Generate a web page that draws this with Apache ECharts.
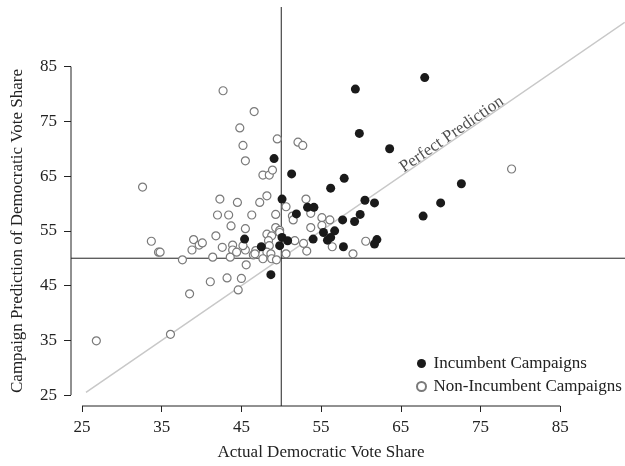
<!DOCTYPE html>
<html>
<head>
<meta charset="utf-8">
<script src="https://cdn.jsdelivr.net/npm/echarts@6/dist/echarts.min.js"></script>
<style>
  html, body { margin: 0; padding: 0; background: #fff; }
  #chart { width: 625px; height: 466px; }
</style>
</head>
<body>
<div id="chart"></div>
<script>
// tick labels on both axes
const xTicks = [25, 35, 45, 55, 65, 75, 85];
const yTicks = [25, 35, 45, 55, 65, 75, 85];

// [actual vote share, campaign prediction]
const incumbent = [
  [68.0, 83.0], [59.3, 80.9], [59.8, 72.8], [63.6, 70.0], [57.9, 64.6],
  [56.2, 62.8], [72.6, 63.6], [70.0, 60.1], [67.8, 57.7], [60.5, 60.6],
  [61.7, 60.1], [59.9, 58.0], [59.2, 56.7], [57.7, 57.0], [53.3, 59.3],
  [54.1, 59.3], [50.1, 60.8], [51.9, 58.1], [49.1, 68.2], [51.3, 65.4],
  [45.4, 53.5], [47.5, 52.1], [50.1, 53.8], [50.8, 53.2], [49.8, 52.3],
  [48.7, 47.0], [54.0, 53.5], [55.3, 54.7], [56.7, 55.0], [56.2, 53.8],
  [57.8, 52.1], [62.0, 53.4], [61.7, 52.6], [55.8, 53.3]
];

const nonIncumbent = [
  [26.8, 34.9], [36.1, 36.1], [38.5, 43.5], [41.1, 45.7], [43.2, 46.4],
  [45.0, 46.3], [44.6, 44.2], [32.6, 63.0], [33.7, 53.1], [34.6, 51.1],
  [34.8, 51.1], [37.6, 49.7], [39.0, 53.4], [38.8, 51.5], [39.7, 52.4],
  [40.1, 52.8], [41.4, 50.2], [41.8, 54.1], [42.6, 52.0], [43.7, 55.9],
  [45.5, 55.4], [43.9, 52.4], [43.9, 51.5], [43.6, 50.2], [44.4, 51.1],
  [45.5, 51.5], [45.6, 48.8], [46.5, 50.6], [46.8, 51.4], [42.0, 57.9],
  [43.4, 57.9], [46.3, 57.9], [49.3, 58.0], [42.3, 60.8], [44.5, 60.2],
  [47.3, 60.2], [48.2, 61.4], [47.7, 65.2], [48.5, 65.2], [48.9, 66.1],
  [45.5, 67.8], [45.2, 70.6], [44.8, 73.8], [46.6, 76.8], [42.7, 80.6],
  [49.5, 71.8], [52.1, 71.2], [52.7, 70.6], [50.6, 59.4], [53.1, 60.8],
  [51.4, 57.7], [51.5, 57.0], [53.7, 58.2], [53.7, 55.6], [49.3, 55.6],
  [49.8, 55.1], [48.2, 54.4], [48.8, 54.1], [49.8, 54.7], [48.4, 53.2],
  [48.5, 52.3], [48.2, 51.1], [48.7, 50.8], [47.7, 49.9], [48.8, 49.9],
  [49.4, 49.7], [50.6, 50.8], [51.7, 53.2], [52.8, 52.7], [53.2, 51.3],
  [55.1, 57.4], [56.1, 57.0], [55.1, 56.0], [56.4, 52.1], [60.6, 53.1],
  [59.0, 50.8], [78.9, 66.3], [46.7, 50.8], [45.2, 52.3]
];

// y = x reference line and where its label sits
const perfectLine = [[25.5, 25.5], [93.1, 93.1]];
const perfectLabel = [72.0, 72.0];

const splitX = 50;
const splitY = 50;

const xRange = [23.62, 93.13];
const yRange = [23.0, 95.9];

const FONT = '"Liberation Serif", "DejaVu Serif", serif';
const INK = '#222';

const chart = echarts.init(document.getElementById('chart'), null, { renderer: 'canvas' });

const xFirst = xTicks[0], xLast = xTicks[xTicks.length - 1];
const yFirst = yTicks[0], yLast = yTicks[yTicks.length - 1];

function frameLine(points) {
  return {
    type: 'line',
    data: points,
    showSymbol: false,
    symbol: 'none',
    silent: true,
    clip: false,
    lineStyle: { color: INK, width: 1 },
    z: 2
  };
}

chart.setOption({
  animation: false,
  backgroundColor: '#fff',
  textStyle: { fontFamily: FONT },
  grid: { left: 71, right: 0, top: 7, bottom: 58, containLabel: false },
  legend: {
    orient: 'vertical',
    left: 411,
    top: 350,
    itemWidth: 14,
    itemHeight: 9,
    itemGap: 6,
    icon: 'circle',
    textStyle: { fontFamily: FONT, fontSize: 17, color: INK },
    data: ['Incumbent Campaigns', 'Non-Incumbent Campaigns']
  },
  xAxis: {
    type: 'value',
    min: xRange[0],
    max: xRange[1],
    name: 'Actual Democratic Vote Share',
    nameLocation: 'middle',
    nameGap: 38,
    nameTextStyle: { fontFamily: FONT, fontSize: 17, color: INK, padding: [0, 54, 0, 0] },
    axisLine: { show: false },
    splitLine: { show: false },
    axisTick: { show: true, length: 6, customValues: xTicks, lineStyle: { color: INK } },
    axisLabel: { customValues: xTicks, margin: 13, fontFamily: FONT, fontSize: 17, color: INK }
  },
  yAxis: {
    type: 'value',
    min: yRange[0],
    max: yRange[1],
    name: 'Campaign Prediction of Democratic Vote Share',
    nameLocation: 'middle',
    nameGap: 45,
    nameTextStyle: { fontFamily: FONT, fontSize: 17, color: INK, padding: [0, 49, 0, 0] },
    axisLine: { show: false },
    splitLine: { show: false },
    axisTick: { show: true, length: 7, customValues: yTicks, lineStyle: { color: INK } },
    axisLabel: { customValues: yTicks, margin: 14, fontFamily: FONT, fontSize: 17, color: INK }
  },
  series: [
    // R-style axis lines spanning only the tick range
    frameLine([[xFirst, yRange[0]], [xLast, yRange[0]]]),
    frameLine([[xRange[0], yFirst], [xRange[0], yLast]]),
    // 50/50 cross-hairs
    frameLine([[splitX, yRange[0]], [splitX, yRange[1]]]),
    frameLine([[xRange[0], splitY], [xRange[1], splitY]]),
    {
      type: 'line',
      data: perfectLine,
      showSymbol: false,
      symbol: 'none',
      silent: true,
      lineStyle: { color: '#c8c8c8', width: 1.5 },
      z: 1
    },
    {
      type: 'scatter',
      data: [perfectLabel],
      symbolSize: 1,
      silent: true,
      itemStyle: { color: 'rgba(0,0,0,0)' },
      label: {
        show: true,
        formatter: 'Perfect Prediction',
        position: 'top',
        distance: -4,
        rotate: 34.5,
        fontFamily: FONT,
        fontSize: 17,
        color: INK
      },
      z: 2
    },
    {
      name: 'Non-Incumbent Campaigns',
      type: 'scatter',
      data: nonIncumbent,
      symbol: 'circle',
      symbolSize: 8,
      itemStyle: { color: '#fff', borderColor: '#7a7a7a', borderWidth: 1.2, opacity: 1 },
      z: 3
    },
    {
      name: 'Incumbent Campaigns',
      type: 'scatter',
      data: incumbent,
      symbol: 'circle',
      symbolSize: 9,
      itemStyle: { color: '#1a1a1a', opacity: 1 },
      z: 4
    }
  ]
});
</script>
</body>
</html>
